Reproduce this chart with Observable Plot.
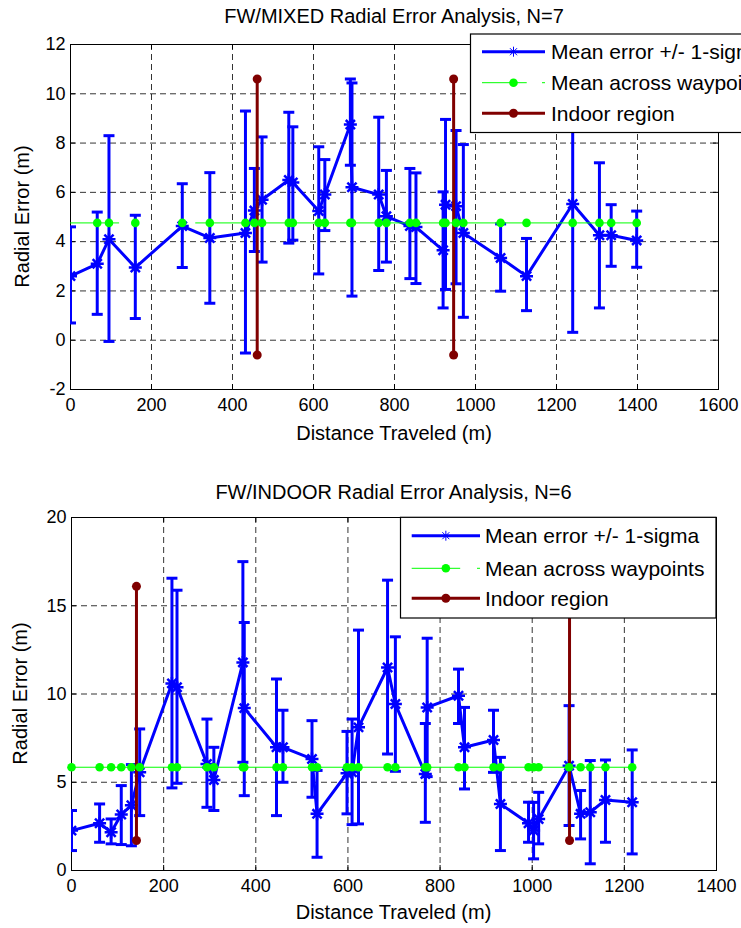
<!DOCTYPE html>
<html><head><meta charset="utf-8">
<script src="https://cdn.jsdelivr.net/npm/d3@7"></script>
<script src="https://cdn.jsdelivr.net/npm/@observablehq/plot@0.6"></script>
<style>
body{margin:0;background:#fff;}
#c svg{display:block;}
</style></head><body><div id="c"></div>
<script>
// ---------- Data: FW/MIXED ----------
const mixedDist = [0,66,95,160,276,344,432,454,473,539,549,613,628,691,695,761,780,838,853,920,926,952,970,1062,1126,1240,1306,1335,1398];
const mixedMean = [2.6,3.1,4.1,2.95,4.63,4.15,4.35,5.26,5.7,6.5,6.4,5.24,5.91,8.75,6.21,5.91,5.03,4.63,4.59,3.65,5.5,5.44,4.35,3.34,2.6,5.53,4.26,4.26,4.05];
const mixedLow  = [0.7,1.05,-0.05,0.88,2.95,1.5,-0.52,3.6,3.17,3.94,4.06,2.69,4.45,7.1,1.79,2.83,3.17,2.5,2.3,1.31,2.06,2.29,0.93,1.99,1.2,0.32,1.31,3.0,2.96];
const mixedHigh = [4.6,5.2,8.3,5.07,6.35,6.8,9.3,6.97,8.25,9.25,8.66,7.85,7.33,10.6,10.44,9.05,6.89,6.97,6.79,6.02,8.96,8.51,7.94,4.72,4.13,10.74,7.2,5.5,5.24];
const mixedAvg = 4.76;
const mixedAvgSegments = [[0,119],[309,1407]];
const mixedIndoorX = [461, 946];
const mixedIndoorY = [-0.6, 10.6];
const mixedXTicks = [0,200,400,600,800,1000,1200,1400,1600];
const mixedYTicks = [-2,0,2,4,6,8,10,12];

// ---------- Data: FW/INDOOR ----------
const indoorDist = [0,61,86,108,130,148,218,229,294,309,372,375,445,459,522,533,598,609,623,686,703,768,772,840,853,916,931,992,1003,1014,1080,1105,1126,1159,1217];
const indoorMean = [2.26,2.68,2.17,3.17,3.7,5.56,10.6,10.38,6.04,5.13,11.79,9.2,6.98,6.98,6.32,3.21,5.51,5.56,8.11,11.5,9.43,5.47,9.24,9.9,6.98,7.39,3.77,2.68,2.26,2.92,5.94,3.21,3.3,4.0,3.87];
const indoorLow  = [1.13,1.6,1.51,1.47,1.4,3.11,4.68,4.94,3.58,3.4,6.13,4.24,3.11,5.0,4.15,0.75,3.21,2.6,2.64,6.6,5.62,2.73,5.32,8.33,4.62,5.56,1.13,1.6,0.66,1.51,2.55,1.79,0.38,1.6,0.94];
const indoorHigh = [3.4,3.77,2.92,4.81,6.0,8.02,16.56,15.88,8.58,6.98,17.5,14.05,10.85,9.08,8.49,5.67,7.88,8.58,13.62,16.45,13.24,8.33,13.16,11.41,9.24,9.08,6.41,3.87,3.86,4.43,9.34,4.53,6.23,6.26,6.83];
const indoorAvg = 5.85;
const indoorAvgSegments = [[0,1217]];
const indoorIndoorX = [141, 1081];
const indoorIndoorY = [1.7, 16.1];
const indoorXTicks = [0,200,400,600,800,1000,1200,1400];
const indoorYTicks = [0,5,10,15,20];

const legendLabels = ["Mean error +/- 1-sigma", "Mean across waypoints", "Indoor region"];

// ---------- Style ----------
const FONT = "'Liberation Sans', Arial, Helvetica, sans-serif";
const BLUE = "#0000ff", GREEN = "#00ff00", RED = "#800000";

const star = {draw(ctx, size){
  const r = Math.sqrt(size/Math.PI), d = r*Math.SQRT1_2;
  ctx.moveTo(-r,0); ctx.lineTo(r,0); ctx.moveTo(0,-r); ctx.lineTo(0,r);
  ctx.moveTo(-d,-d); ctx.lineTo(d,d); ctx.moveTo(-d,d); ctx.lineTo(d,-d);
}};
const cap = {draw(ctx, size){
  const r = Math.sqrt(size/Math.PI);
  ctx.moveTo(-r,0); ctx.lineTo(r,0);
}};

function chart(c){
  const rows = c.dist.map((d,i)=>({d, m:c.mean[i], lo:c.low[i], hi:c.high[i]}));
  const indoor = c.indoorX.flatMap((x,k)=>c.indoorY.map(y=>({x,y,k})));
  const segs = c.avgSegs.flatMap((s,k)=>s.map(x=>({x, y:c.avg, k})));
  const dots = c.avgDots;
  const fh = c.height - c.mt - c.mb, fw = c.width - c.ml - c.mr;
  const grid = {stroke:"black", strokeOpacity:1, strokeDasharray:"6,4", strokeWidth:0.8};
  const svg = Plot.plot({
    width:c.width, height:c.height,
    marginTop:c.mt, marginBottom:c.mb, marginLeft:c.ml, marginRight:c.mr,
    x:{domain:c.xDomain}, y:{domain:c.yDomain},
    style:{fontFamily:FONT, fontSize:"18px", color:"black", background:"white", overflow:"hidden"},
    marks:[
      Plot.gridX(c.xTicks, grid),
      Plot.gridY(c.yTicks, grid),
      Plot.ruleX(c.xTicks, {insetTop: fh-5, stroke:"black"}),
      Plot.ruleX(c.xTicks, {insetBottom: fh-5, stroke:"black"}),
      Plot.ruleY(c.yTicks, {insetRight: fw-5, stroke:"black"}),
      Plot.ruleY(c.yTicks, {insetLeft: fw-5, stroke:"black"}),
      Plot.frame({stroke:"black", strokeWidth:1}),
      Plot.axisX({ticks:c.xTicks, tickSize:0, tickPadding:9, tickFormat:d=>String(d), fontSize:18, label:null}),
      Plot.axisY({ticks:c.yTicks, tickSize:0, tickPadding:5, tickFormat:d=>String(d), fontSize:18, label:null}),
      Plot.ruleX(rows, {x:"d", y1:"lo", y2:"hi", stroke:BLUE, strokeWidth:3, clip:true}),
      Plot.dot(rows, {x:"d", y:"lo", symbol:cap, r:5.5, stroke:BLUE, strokeWidth:3, fill:"none", clip:true}),
      Plot.dot(rows, {x:"d", y:"hi", symbol:cap, r:5.5, stroke:BLUE, strokeWidth:3, fill:"none", clip:true}),
      Plot.line(rows, {x:"d", y:"m", stroke:BLUE, strokeWidth:3, clip:true}),
      Plot.dot(rows, {x:"d", y:"m", symbol:star, r:6.5, stroke:BLUE, strokeWidth:2.5, fill:"none", clip:true}),
      Plot.line(indoor, {x:"x", y:"y", z:"k", stroke:RED, strokeWidth:3}),
      Plot.dot(indoor, {x:"x", y:"y", r:4.5, fill:RED, stroke:"none"}),
      Plot.line(segs, {x:"x", y:"y", z:"k", stroke:GREEN, strokeWidth:1}),
      Plot.dot(dots, {x:d=>d, y:()=>c.avg, r:4.3, fill:GREEN, stroke:"none"})
    ]
  });
  const s = d3.select(svg);
  // title
  s.append("text").attr("x", c.ml + fw/2).attr("y", c.titleY).attr("text-anchor","middle")
    .attr("dy","0.35em").style("font-size","20px").text(c.title);
  // axis labels
  s.append("text").attr("x", c.ml + fw/2).attr("y", c.xLabelY).attr("text-anchor","middle")
    .attr("dy","0.35em").style("font-size","20px").text("Distance Traveled (m)");
  s.append("text").attr("transform", `translate(${c.yLabelX},${c.mt + fh/2}) rotate(-90)`)
    .attr("text-anchor","middle").attr("dy","0.35em").style("font-size","20px").text("Radial Error (m)");
  // legend
  const L = c.legend;
  const g = s.append("g");
  g.append("rect").attr("x",L.x).attr("y",L.y).attr("width",L.w).attr("height",L.h)
    .attr("fill","white").attr("stroke","black").attr("stroke-width",1.2);
  const mid = (L.x1 + L.x2)/2;
  // row 1: blue
  g.append("line").attr("x1",L.x1).attr("x2",L.x2).attr("y1",L.rows[0]).attr("y2",L.rows[0])
    .attr("stroke",BLUE).attr("stroke-width",3);
  const r = 5, dd = r*Math.SQRT1_2, cy = L.rows[0];
  g.append("path").attr("d",`M${mid-r},${cy}H${mid+r}M${mid},${cy-r}V${cy+r}M${mid-dd},${cy-dd}L${mid+dd},${cy+dd}M${mid-dd},${cy+dd}L${mid+dd},${cy-dd}`)
    .attr("stroke",BLUE).attr("stroke-width",1).attr("fill","none");
  // row 2: green
  g.append("line").attr("x1",L.x1).attr("x2",L.x1 + (L.x2-L.x1)*0.71).attr("y1",L.rows[1]).attr("y2",L.rows[1])
    .attr("stroke",GREEN).attr("stroke-width",1);
  g.append("line").attr("x1",L.x2-3).attr("x2",L.x2).attr("y1",L.rows[1]).attr("y2",L.rows[1])
    .attr("stroke",GREEN).attr("stroke-width",1);
  g.append("circle").attr("cx",mid).attr("cy",L.rows[1]).attr("r",4.3).attr("fill",GREEN);
  // row 3: red
  g.append("line").attr("x1",L.x1).attr("x2",L.x2).attr("y1",L.rows[2]).attr("y2",L.rows[2])
    .attr("stroke",RED).attr("stroke-width",3);
  g.append("circle").attr("cx",mid).attr("cy",L.rows[2]).attr("r",4.5).attr("fill",RED);
  legendLabels.forEach((t,i)=>{
    g.append("text").attr("x",L.tx).attr("y",L.rows[i]).attr("dy","0.35em")
      .attr("text-anchor","start").style("font-size","21px").text(t);
  });
  return svg;
}

const root = document.getElementById("c");
root.appendChild(chart({
  dist:mixedDist, mean:mixedMean, low:mixedLow, high:mixedHigh,
  avg:mixedAvg, avgSegs:mixedAvgSegments, avgDots:mixedDist.filter(d=>d>0),
  indoorX:mixedIndoorX, indoorY:mixedIndoorY,
  xDomain:[0,1600], xTicks:mixedXTicks, yDomain:[-2,12], yTicks:mixedYTicks,
  width:741, height:464, mt:44, mb:75, ml:70, mr:23,
  title:"FW/MIXED Radial Error Analysis, N=7", titleY:16, xLabelY:433, yLabelX:22,
  legend:{x:470.5, y:34, w:320, h:98.5, x1:482, x2:545, tx:551, rows:[51.7,82.7,113.3]}
}));
root.appendChild(chart({
  dist:indoorDist, mean:indoorMean, low:indoorLow, high:indoorHigh,
  avg:indoorAvg, avgSegs:indoorAvgSegments, avgDots:indoorDist,
  indoorX:indoorIndoorX, indoorY:indoorIndoorY,
  xDomain:[0,1400], xTicks:indoorXTicks, yDomain:[0,20], yTicks:indoorYTicks,
  width:741, height:464, mt:53, mb:58, ml:71, mr:25,
  title:"FW/INDOOR Radial Error Analysis, N=6", titleY:28, xLabelY:448, yLabelX:20,
  legend:{x:400.5, y:53.3, w:315.5, h:100.7, x1:411.7, x2:480, tx:485, rows:[71.7,104.3,134.3]}
}));
</script>
</body></html>
